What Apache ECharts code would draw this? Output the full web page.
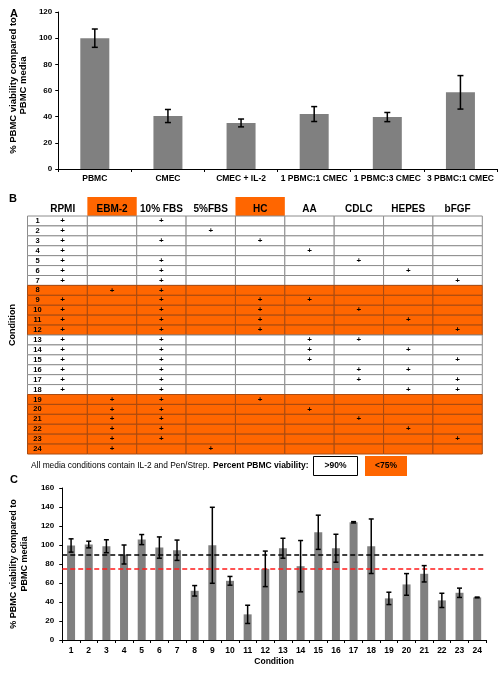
<!DOCTYPE html>
<html><head><meta charset="utf-8">
<script src="https://cdn.jsdelivr.net/npm/echarts@6/dist/echarts.min.js"></script>
<style>html,body{margin:0;padding:0;background:#fff}#c{width:504px;height:675px}</style>
</head><body><div id="c"></div>
<script>
// ---------- Panel A data ----------
const aCategories = ['PBMC', 'CMEC', 'CMEC + IL-2', '1 PBMC:1 CMEC', '1 PBMC:3 CMEC', '3 PBMC:1 CMEC'];
const aMeans = [100, 40.5, 35.2, 42, 39.7, 58.6];
const aErrors = [7, 5, 3, 5.7, 3.5, 12.8];

// ---------- Panel B data ----------
const components = ['RPMI', 'EBM-2', '10% FBS', '5%FBS', 'HC', 'AA', 'CDLC', 'HEPES', 'bFGF'];
const highlightedHeaders = ['EBM-2', 'HC'];
const conditionNumbers = ['1','2','3','4','5','6','7','8','9','10','11','12','13','14','15','16','17','18','19','20','21','22','23','24'];
const conditionComponents = [
  ['RPMI', '10% FBS'],
  ['RPMI', '5%FBS'],
  ['RPMI', '10% FBS', 'HC'],
  ['RPMI', 'AA'],
  ['RPMI', '10% FBS', 'CDLC'],
  ['RPMI', '10% FBS', 'HEPES'],
  ['RPMI', '10% FBS', 'bFGF'],
  ['EBM-2', '10% FBS'],
  ['RPMI', '10% FBS', 'HC', 'AA'],
  ['RPMI', '10% FBS', 'HC', 'CDLC'],
  ['RPMI', '10% FBS', 'HC', 'HEPES'],
  ['RPMI', '10% FBS', 'HC', 'bFGF'],
  ['RPMI', '10% FBS', 'AA', 'CDLC'],
  ['RPMI', '10% FBS', 'AA', 'HEPES'],
  ['RPMI', '10% FBS', 'AA', 'bFGF'],
  ['RPMI', '10% FBS', 'CDLC', 'HEPES'],
  ['RPMI', '10% FBS', 'CDLC', 'bFGF'],
  ['RPMI', '10% FBS', 'HEPES', 'bFGF'],
  ['EBM-2', '10% FBS', 'HC'],
  ['EBM-2', '10% FBS', 'AA'],
  ['EBM-2', '10% FBS', 'CDLC'],
  ['EBM-2', '10% FBS', 'HEPES'],
  ['EBM-2', '10% FBS', 'bFGF'],
  ['EBM-2', '5%FBS']
];
const lowViabilityConditions = ['8','9','10','11','12','19','20','21','22','23','24'];
const legendHigh = '>90%';
const legendLow = '<75%';

// ---------- Panel C data ----------
const cCategories = conditionNumbers;
const cMeans = [99.5, 100.5, 98.7, 90, 105.7, 97.3, 94.5, 51.8, 99.7, 62.3, 27, 74.9, 96.6, 77.7, 113.4, 96.6, 123.9, 98.7, 43.8, 58.5, 69.7, 41.7, 49.7, 44.8];
const cErrors = [7, 3.5, 6.8, 10, 5.3, 11.2, 10.7, 5.5, 40, 4.6, 9.6, 18.7, 10.5, 27, 18, 14.7, 0.7, 28.7, 6.5, 11.4, 8.6, 7.5, 4.9, 0.4];
const thresholdHigh = 90;
const thresholdLow = 75;

// ---------- styles ----------
const FONT = 'Liberation Sans, Arial, sans-serif';
const ORANGE = '#ff6600';
const BAR = '#808080';

const tableData = [];
conditionComponents.forEach((comps, r) => {
  const low = lowViabilityConditions.includes(conditionNumbers[r]) ? 1 : 0;
  components.forEach((comp, c) => {
    tableData.push([c, r, low, comps.includes(comp) ? 1 : 0]);
  });
});
const headerData = highlightedHeaders.map(h => [components.indexOf(h), 0]);

function errorSeries(xi, yi, means, errs, cap) {
  return {
    type: 'custom', xAxisIndex: xi, yAxisIndex: yi, z: 5,
    data: means.map((m, i) => [i, m, errs[i]]),
    renderItem(params, api) {
      const i = api.value(0), m = api.value(1), e = api.value(2);
      const hi = api.coord([i, m + e]);
      const lo = api.coord([i, m - e]);
      const st = { stroke: '#000', lineWidth: 1.5 };
      return { type: 'group', children: [
        { type: 'line', shape: { x1: hi[0], y1: hi[1], x2: lo[0], y2: lo[1] }, style: st },
        { type: 'line', shape: { x1: hi[0] - cap, y1: hi[1], x2: hi[0] + cap, y2: hi[1] }, style: st },
        { type: 'line', shape: { x1: lo[0] - cap, y1: lo[1], x2: lo[0] + cap, y2: lo[1] }, style: st }
      ]};
    }
  };
}

const axisLineStyle = { show: true, lineStyle: { color: '#000', width: 1 } };
const tickLabel = { color: '#000', fontFamily: FONT, fontWeight: 'bold', fontSize: 8 };

const chart = echarts.init(document.getElementById('c'), null, { renderer: 'canvas' });
chart.setOption({
  backgroundColor: '#fff',
  animation: false,
  grid: [
    { left: 48, right: 7, top: 12, height: 157 },
    { left: 37.4, right: 21.7, top: 216, height: 238 },
    { left: 52, right: 18, top: 488, height: 152 }
  ],
  xAxis: [
    { gridIndex: 0, type: 'category', data: aCategories, axisLine: axisLineStyle,
      axisTick: { show: true, length: 3, lineStyle: { color: '#000' } },
      axisLabel: { ...tickLabel, fontSize: 8.5, margin: 5, interval: 0 } },
    { gridIndex: 1, type: 'category', data: components, position: 'top', z: 6,
      axisLine: { show: false }, axisTick: { show: false }, splitLine: { show: false },
      axisLabel: { color: '#000', fontFamily: FONT, fontWeight: 'bold', fontSize: 10, margin: 2, interval: 0 } },
    { gridIndex: 2, type: 'category', data: cCategories, axisLine: axisLineStyle,
      axisTick: { show: true, length: 3, lineStyle: { color: '#000' } },
      axisLabel: { ...tickLabel, fontSize: 8.5, margin: 6, interval: 0 },
      name: 'Condition', nameLocation: 'middle', nameGap: 17,
      nameTextStyle: { color: '#000', fontFamily: FONT, fontWeight: 'bold', fontSize: 8.5 } }
  ],
  yAxis: [
    { gridIndex: 0, type: 'value', min: 0, max: 120, interval: 20, axisLine: axisLineStyle,
      axisTick: { show: true, length: 3, lineStyle: { color: '#000' } }, splitLine: { show: false },
      axisLabel: { ...tickLabel, margin: 6 },
      name: '% PBMC viability compared to\nPBMC media', nameLocation: 'middle', nameRotate: 90, nameGap: 24,
      nameTextStyle: { color: '#000', fontFamily: FONT, fontWeight: 'bold', fontSize: 9.5, lineHeight: 10, padding: [0, 0, 0, 10] } },
    { gridIndex: 1, type: 'category', data: conditionNumbers, inverse: true,
      axisLine: { show: false }, axisTick: { show: false }, axisLabel: { show: false }, splitLine: { show: false },
      name: 'Condition', nameLocation: 'middle', nameRotate: 90, nameGap: 21,
      nameTextStyle: { color: '#000', fontFamily: FONT, fontWeight: 'bold', fontSize: 9, padding: [0, 0, 0, 20] } },
    { gridIndex: 2, type: 'value', min: 0, max: 160, interval: 20, axisLine: axisLineStyle,
      axisTick: { show: true, length: 3, lineStyle: { color: '#000' } }, splitLine: { show: false },
      axisLabel: { ...tickLabel, margin: 8 },
      name: '% PBMC viability compared to\nPBMC media', nameLocation: 'middle', nameRotate: 90, nameGap: 25,
      nameTextStyle: { color: '#000', fontFamily: FONT, fontWeight: 'bold', fontSize: 9, lineHeight: 11 } }
  ],
  series: [
    { type: 'bar', xAxisIndex: 0, yAxisIndex: 0, data: aMeans, barWidth: 29, itemStyle: { color: BAR } },
    errorSeries(0, 0, aMeans, aErrors, 3),
    { type: 'custom', xAxisIndex: 1, yAxisIndex: 1, z: 2, data: tableData,
      renderItem(params, api) {
        const c = api.value(0), r = api.value(1);
        const ctr = api.coord([c, r]);
        const sz = api.size([1, 1]);
        let x0 = ctr[0] - sz[0] / 2, w = sz[0];
        const y0 = ctr[1] - sz[1] / 2, h = sz[1];
        if (c === 0) { x0 -= 10.5; w += 10.5; }
        const low = api.value(2) === 1;
        const children = [{ type: 'rect', shape: { x: x0, y: y0, width: w, height: h },
          style: { fill: low ? ORANGE : '#fff', stroke: low ? '#a84a10' : '#8c8c8c', lineWidth: 1 } }];
        if (api.value(3) === 1) {
          children.push({ type: 'text', style: { text: '+', x: ctr[0], y: ctr[1], align: 'center', verticalAlign: 'middle',
            font: 'bold 8px ' + FONT, fill: '#000' } });
        }
        if (c === 0) {
          children.push({ type: 'text', style: { text: conditionNumbers[r], x: x0 + 10, y: ctr[1], align: 'center', verticalAlign: 'middle',
            font: 'bold 7.5px ' + FONT, fill: '#000' } });
        }
        return { type: 'group', children };
      } },
    { type: 'custom', xAxisIndex: 1, yAxisIndex: 1, z: 1, data: headerData,
      renderItem(params, api) {
        const c = api.value(0);
        const ctr = api.coord([c, 0]);
        const sz = api.size([1, 1]);
        const top = ctr[1] - sz[1] / 2;
        return { type: 'rect', shape: { x: ctr[0] - sz[0] / 2, y: top - 19, width: sz[0], height: 19 },
          style: { fill: ORANGE } };
      } },
    { type: 'bar', xAxisIndex: 2, yAxisIndex: 2, data: cMeans, barWidth: 8, itemStyle: { color: BAR },
      markLine: { silent: true, symbol: 'none', label: { show: false },
        data: [
          { yAxis: thresholdHigh, lineStyle: { color: '#000', type: [5, 3], width: 1.5 } },
          { yAxis: thresholdLow, lineStyle: { color: '#ff1a1a', type: [5, 3], width: 1.5 } }
        ] } },
    errorSeries(2, 2, cMeans, cErrors, 2.5)
  ],
  graphic: [
    { type: 'text', left: 10, top: 8, style: { text: 'A', font: 'bold 11px ' + FONT, fill: '#000' } },
    { type: 'text', left: 9, top: 193, style: { text: 'B', font: 'bold 11px ' + FONT, fill: '#000' } },
    { type: 'text', left: 10, top: 474, style: { text: 'C', font: 'bold 11px ' + FONT, fill: '#000' } },
    { type: 'text', left: 31, top: 460, style: {
      text: '{n|All media conditions contain IL-2 and Pen/Strep.} {b|Percent PBMC viability:}',
      rich: { n: { font: '8.4px ' + FONT, fill: '#000' }, b: { font: 'bold 8.5px ' + FONT, fill: '#000' } } } },
    { type: 'rect', shape: { x: 313.5, y: 456.5, width: 44, height: 19 }, style: { fill: '#fff', stroke: '#000', lineWidth: 1 } },
    { type: 'text', x: 335.5, y: 466, style: { text: legendHigh, align: 'center', verticalAlign: 'middle', font: 'bold 8.5px ' + FONT, fill: '#000' } },
    { type: 'rect', shape: { x: 365, y: 456, width: 42, height: 20 }, style: { fill: ORANGE } },
    { type: 'text', x: 386, y: 466, style: { text: legendLow, align: 'center', verticalAlign: 'middle', font: 'bold 8.5px ' + FONT, fill: '#000' } }
  ]
});
</script></body></html>
